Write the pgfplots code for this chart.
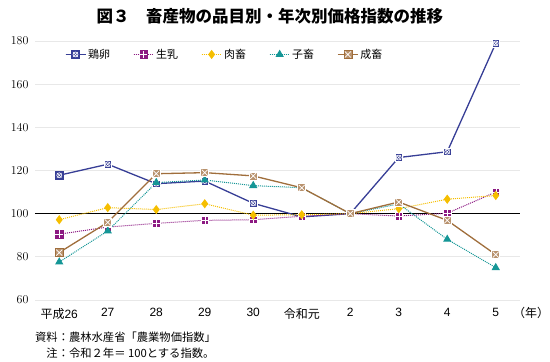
\documentclass[border=0pt]{standalone}
\usepackage{fontspec}
\setmainfont{Liberation Sans}
\newfontfamily\jp{Noto Sans CJK JP}
\usepackage{pgfplots}
\pgfplotsset{compat=1.18}
\definecolor{egg}{RGB}{55,62,150}
\definecolor{milk}{RGB}{140,25,130}
\definecolor{meat}{RGB}{245,190,0}
\definecolor{calf}{RGB}{20,150,150}
\definecolor{adult}{RGB}{160,110,60}
\pgfdeclareplotmark{eggx}{%
  \pgfpathrectangle{\pgfpoint{-\pgfplotmarksize}{-\pgfplotmarksize}}{\pgfpoint{2\pgfplotmarksize}{2\pgfplotmarksize}}%
  \pgfusepathqfillstroke
  \pgfsetstrokecolor{white}\pgfsetlinewidth{0.6pt}%
  \pgfpathcircle{\pgfpointorigin}{0.65\pgfplotmarksize}\pgfusepathqstroke
  \pgfpathmoveto{\pgfpoint{-0.6\pgfplotmarksize}{-0.6\pgfplotmarksize}}\pgfpathlineto{\pgfpoint{0.6\pgfplotmarksize}{0.6\pgfplotmarksize}}%
  \pgfpathmoveto{\pgfpoint{-0.6\pgfplotmarksize}{0.6\pgfplotmarksize}}\pgfpathlineto{\pgfpoint{0.6\pgfplotmarksize}{-0.6\pgfplotmarksize}}%
  \pgfusepathqstroke}
\pgfdeclareplotmark{boxx}{%
  \pgfpathrectangle{\pgfpoint{-\pgfplotmarksize}{-\pgfplotmarksize}}{\pgfpoint{2\pgfplotmarksize}{2\pgfplotmarksize}}%
  \pgfusepathqfillstroke
  \pgfsetstrokecolor{white}\pgfsetlinewidth{0.7pt}%
  \pgfpathmoveto{\pgfpoint{-0.75\pgfplotmarksize}{-0.75\pgfplotmarksize}}\pgfpathlineto{\pgfpoint{0.75\pgfplotmarksize}{0.75\pgfplotmarksize}}%
  \pgfpathmoveto{\pgfpoint{-0.75\pgfplotmarksize}{0.75\pgfplotmarksize}}\pgfpathlineto{\pgfpoint{0.75\pgfplotmarksize}{-0.75\pgfplotmarksize}}%
  \pgfusepathqstroke}
\pgfdeclareplotmark{gridsq}{%
  \pgfpathrectangle{\pgfpoint{-\pgfplotmarksize}{-\pgfplotmarksize}}{\pgfpoint{2\pgfplotmarksize}{2\pgfplotmarksize}}%
  \pgfusepathqfillstroke
  \pgfsetstrokecolor{white}\pgfsetlinewidth{0.5pt}%
  \pgfpathmoveto{\pgfpoint{0pt}{-\pgfplotmarksize}}\pgfpathlineto{\pgfpoint{0pt}{\pgfplotmarksize}}%
  \pgfpathmoveto{\pgfpoint{-\pgfplotmarksize}{0pt}}\pgfpathlineto{\pgfpoint{\pgfplotmarksize}{0pt}}%
  \pgfusepathqstroke}
\begin{document}
\begin{tikzpicture}
\path[use as bounding box] (-35pt,-62pt) rectangle (515pt,300pt);
\begin{axis}[
  at={(0pt,0pt)}, anchor=south west,
  scale only axis, width=485pt, height=259pt,
  xmin=-0.5, xmax=9.5, ymin=60, ymax=180,
  xtick={0,...,9},
  xticklabels={{\jp 平成}26,27,28,29,30,{\jp 令和元},2,3,4,5},
  ytick={60,80,...,180},
  axis line style={draw=none},
  major tick length=0pt,
  ymajorgrids, grid style={gray!18, line width=0.8pt},
  extra y ticks={100}, extra y tick labels={},
  extra y tick style={grid style={black, line width=1.1pt}},
  tick label style={font=\fontsize{12}{14}\selectfont},
  xticklabel style={yshift=-5pt},
  yticklabel style={xshift=-3pt},
  legend style={at={(0.055,0.985)}, anchor=north west, draw=none, fill=none,
    font=\jp\fontsize{11}{13}\selectfont,
    /tikz/every even column/.append style={column sep=21pt}},
  legend columns=5,
  legend image code/.code={\draw[#1] (0pt,0pt) -- (20pt,0pt); \draw[#1, mark repeat=2, mark phase=2] plot coordinates {(0pt,0pt) (10pt,0pt) (20pt,0pt)};},
]
\addplot[egg, line width=1.3pt, mark=eggx, mark size=3.8pt, mark options={solid, fill=egg, draw=egg, line width=0.5pt}]
  coordinates {(0,117.8) (1,122.9) (2,113.9) (3,115.1) (4,104.8) (5,98.5) (6,100) (7,126) (8,128.7) (9,178.9)};
\addlegendentry{鶏卵}
\addplot[milk, line width=1pt, densely dotted, mark=gridsq, mark size=3.8pt, mark options={solid, fill=milk, draw=milk, line width=0.5pt}]
  coordinates {(0,90.5) (1,93.8) (2,95.5) (3,96.9) (4,97.2) (5,98.8) (6,100) (7,98.9) (8,100.2) (9,110)};
\addlegendentry{生乳}
\addplot[meat, line width=1pt, densely dotted, mark=diamond*, mark size=3.8pt, mark options={solid, fill=meat, draw=meat}]
  coordinates {(0,97.2) (1,102.8) (2,101.9) (3,104.6) (4,99.3) (5,99.5) (6,100) (7,102.3) (8,106.7) (9,108.4)};
\addlegendentry{肉畜}
\addplot[calf, line width=1pt, densely dotted, mark=triangle*, mark size=3.8pt, mark options={solid, fill=calf, draw=calf}]
  coordinates {(0,77.6) (1,92) (2,114.4) (3,115.6) (4,113) (5,112) (6,100) (7,104.5) (8,88.1) (9,75)};
\addlegendentry{子畜}
\addplot[adult, line width=1.3pt, mark=boxx, mark size=4pt, mark options={solid, fill=adult!75!white, draw=adult, line width=0.6pt}]
  coordinates {(0,82) (1,96) (2,118.5) (3,119) (4,117.5) (5,112) (6,100) (7,105.4) (8,96.9) (9,81)};
\addlegendentry{成畜}
\end{axis}
\node[font=\jp\bfseries\fontsize{16.5}{19}\selectfont] at (235pt,284pt) {図３　畜産物の品目別・年次別価格指数の推移};
\node[font=\jp\fontsize{12}{14}\selectfont] at (496pt,-13pt) {（年）};
\node[font=\jp\fontsize{11.3}{13}\selectfont, anchor=west, inner sep=0pt] at (0pt,-37pt) {資料：農林水産省「農業物価指数」};
\node[font=\jp\fontsize{11.3}{13}\selectfont, anchor=west, inner sep=0pt] at (0pt,-53pt) {　注：令和２年＝ 100とする指数。};
\end{tikzpicture}
\end{document}
